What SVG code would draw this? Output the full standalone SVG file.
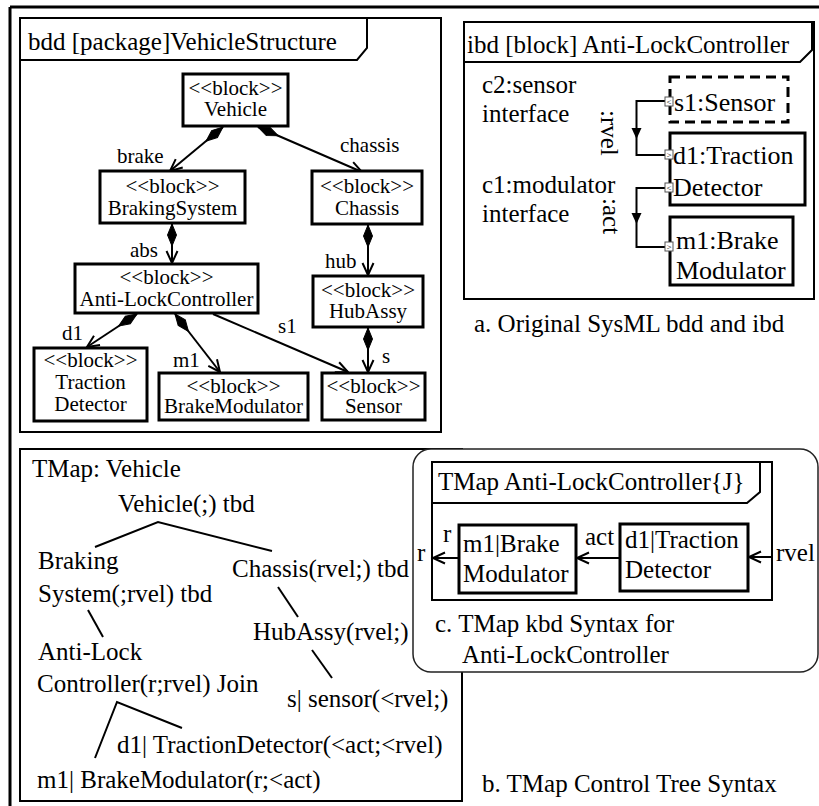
<svg xmlns="http://www.w3.org/2000/svg" width="819" height="806" viewBox="0 0 819 806" font-family="'Liberation Serif', 'Times New Roman', Times, serif">
  <style>
    .t25 { font-size: 25px; }
    .t21 { font-size: 21px; }
    .t26 { font-size: 26px; }
    .mid { text-anchor: middle; }
    .frame { fill: none; stroke: #000; stroke-width: 2; }
    .box { fill: #fff; stroke: #000; stroke-width: 3; }
    .dash { fill: #fff; stroke: #000; stroke-width: 3; stroke-dasharray: 10 6; }
    .line { fill: none; stroke: #000; stroke-width: 2; }
    .port { fill: #fff; stroke: #555; stroke-width: 1; }
    .portg { font-size: 9px; text-anchor: middle; }
  </style>
  <defs>
    <marker id="diamond" markerUnits="userSpaceOnUse" markerWidth="24" markerHeight="12" refX="0" refY="0" viewBox="0 -6 24 12" orient="auto" overflow="visible">
      <path d="M0,0 L11,-4.5 L22,0 L11,4.5 Z" fill="#000" stroke="#000" stroke-width="1"/>
    </marker>
    <marker id="open" markerUnits="userSpaceOnUse" markerWidth="16" markerHeight="14" refX="0" refY="0" viewBox="-14 -7 16 14" orient="auto" overflow="visible">
      <path d="M-12,-5.5 L0,0 L-12,5.5" fill="none" stroke="#000" stroke-width="2"/>
    </marker>
  </defs>

  <rect width="819" height="806" fill="#fff"/>

  <!-- outer frame (top and left edges) -->
  <line x1="10" y1="7" x2="819" y2="7" stroke="#000" stroke-width="3"/>
  <line x1="10" y1="7" x2="10" y2="806" stroke="#000" stroke-width="3"/>

  <!-- ===== bdd ===== -->
  <g id="bdd-frame">
    <rect x="20" y="18" width="421" height="414" class="frame"/>
    <path d="M20,60 H357 L367,48 V18" class="frame"/>
    <text x="28" y="50" class="t25">bdd [package]VehicleStructure</text>
  </g>

  <g id="bdd-connectors">
    <line x1="223" y1="127" x2="170" y2="171" class="line" marker-start="url(#diamond)" marker-end="url(#open)"/>
    <line x1="258" y1="127" x2="362" y2="172" class="line" marker-start="url(#diamond)" marker-end="url(#open)"/>
    <line x1="172" y1="224" x2="172" y2="263" class="line" marker-start="url(#diamond)" marker-end="url(#open)"/>
    <line x1="368" y1="225" x2="368" y2="275" class="line" marker-start="url(#diamond)" marker-end="url(#open)"/>
    <line x1="368" y1="328" x2="368" y2="372" class="line" marker-start="url(#diamond)" marker-end="url(#open)"/>
    <line x1="137" y1="314" x2="87" y2="347" class="line" marker-start="url(#diamond)" marker-end="url(#open)"/>
    <line x1="175" y1="314" x2="220" y2="372" class="line" marker-start="url(#diamond)" marker-end="url(#open)"/>
    <line x1="213" y1="314" x2="348" y2="372" class="line" marker-end="url(#open)"/>
    <text x="117" y="163" class="t21">brake</text>
    <text x="340" y="152" class="t21">chassis</text>
    <text x="130" y="257" class="t21">abs</text>
    <text x="325" y="268" class="t21">hub</text>
    <text x="62" y="340" class="t21">d1</text>
    <text x="173" y="367" class="t21">m1</text>
    <text x="278" y="333" class="t21">s1</text>
    <text x="382" y="363" class="t21">s</text>
  </g>

  <g id="Vehicle">
    <rect x="183" y="74" width="105" height="52" class="box"/>
    <text x="235.5" y="95" class="t21 mid">&lt;&lt;block&gt;&gt;</text>
    <text x="235.5" y="116" class="t21 mid">Vehicle</text>
  </g>
  <g id="BrakingSystem">
    <rect x="100" y="171" width="145" height="52" class="box"/>
    <text x="172.5" y="193" class="t21 mid">&lt;&lt;block&gt;&gt;</text>
    <text x="172.5" y="215" class="t21 mid">BrakingSystem</text>
  </g>
  <g id="Chassis">
    <rect x="312" y="171" width="110" height="53" class="box"/>
    <text x="367" y="193" class="t21 mid">&lt;&lt;block&gt;&gt;</text>
    <text x="367" y="215" class="t21 mid">Chassis</text>
  </g>
  <g id="AntiLockController">
    <rect x="75" y="264" width="183" height="49" class="box"/>
    <text x="166.5" y="284" class="t21 mid">&lt;&lt;block&gt;&gt;</text>
    <text x="166.5" y="306" class="t21 mid">Anti-LockController</text>
  </g>
  <g id="HubAssy">
    <rect x="313" y="276" width="110" height="51" class="box"/>
    <text x="368" y="297" class="t21 mid">&lt;&lt;block&gt;&gt;</text>
    <text x="368" y="318" class="t21 mid">HubAssy</text>
  </g>
  <g id="TractionDetector">
    <rect x="34" y="348" width="113" height="73" class="box"/>
    <text x="90.5" y="367" class="t21 mid">&lt;&lt;block&gt;&gt;</text>
    <text x="90.5" y="389" class="t21 mid">Traction</text>
    <text x="90.5" y="411" class="t21 mid">Detector</text>
  </g>
  <g id="BrakeModulator">
    <rect x="159" y="373" width="149" height="47" class="box"/>
    <text x="233.5" y="393" class="t21 mid">&lt;&lt;block&gt;&gt;</text>
    <text x="233.5" y="413" class="t21 mid">BrakeModulator</text>
  </g>
  <g id="Sensor">
    <rect x="322" y="373" width="103" height="47" class="box"/>
    <text x="373.5" y="393" class="t21 mid">&lt;&lt;block&gt;&gt;</text>
    <text x="373.5" y="413" class="t21 mid">Sensor</text>
  </g>

  <!-- ===== ibd ===== -->
  <g id="ibd-frame">
    <rect x="464" y="22" width="350" height="277" class="frame"/>
    <path d="M464,62 H800 L812,50 V22" class="frame"/>
    <text x="467" y="53" class="t25">ibd [block] Anti-LockController</text>
    <text x="482" y="93" class="t25">c2:sensor</text>
    <text x="482" y="122" class="t25">interface</text>
    <text x="482" y="193" class="t25">c1:modulator</text>
    <text x="482" y="222" class="t25">interface</text>
  </g>

  <g id="ibd-connectors">
    <path d="M665,101 H636.5 V155 H665" class="line"/>
    <polygon points="631.5,128 641.5,128 636.5,139" fill="#000"/>
    <path d="M665,188 H636.5 V247 H665" class="line"/>
    <polygon points="631.5,213 641.5,213 636.5,224" fill="#000"/>
    <text x="0" y="0" class="t25" transform="translate(601,110) rotate(90)">:rvel</text>
    <text x="0" y="0" class="t25" transform="translate(603,198) rotate(90)">:act</text>
  </g>

  <g id="s1-Sensor">
    <rect x="670" y="77" width="118" height="45" class="dash"/>
    <text x="674" y="111" class="t26">s1:Sensor</text>
    <rect x="665" y="97" width="8" height="9" class="port"/>
    <text x="669" y="105" class="portg">&lt;</text>
  </g>
  <g id="d1-TractionDetector">
    <rect x="670" y="133" width="135" height="72" class="box"/>
    <text x="673" y="164" class="t26">d1:Traction</text>
    <text x="673" y="196" class="t26">Detector</text>
    <rect x="665" y="150" width="8" height="9" class="port"/>
    <text x="669" y="158" class="portg">&gt;</text>
    <rect x="665" y="183" width="8" height="9" class="port"/>
    <text x="669" y="191" class="portg">&lt;</text>
  </g>
  <g id="m1-BrakeModulator">
    <rect x="670" y="217" width="123" height="68" class="box"/>
    <text x="676" y="249" class="t26">m1:Brake</text>
    <text x="676" y="279" class="t26">Modulator</text>
    <rect x="665" y="242" width="8" height="9" class="port"/>
    <text x="669" y="250" class="portg">&gt;</text>
  </g>

  <text x="474" y="332" class="t25">a. Original SysML bdd and ibd</text>

  <!-- ===== TMap control tree ===== -->
  <g id="tmap-frame">
    <rect x="20" y="449" width="442" height="352" class="frame"/>
    <text x="32" y="477" class="t25">TMap: Vehicle</text>
  </g>

  <g id="tree-links">
    <path d="M95,547 L158,522 L272,551" class="line"/>
    <line x1="88" y1="610" x2="103" y2="637" class="line"/>
    <line x1="278" y1="587" x2="298" y2="617" class="line"/>
    <line x1="312" y1="650" x2="332" y2="678" class="line"/>
    <path d="M95,758 L117,702 L182,728" class="line"/>
  </g>

  <g id="tree-Vehicle"><text x="118" y="512" class="t25">Vehicle(;) tbd</text></g>
  <g id="tree-BrakingSystem">
    <text x="38" y="569" class="t25">Braking</text>
    <text x="38" y="602" class="t25">System(;rvel) tbd</text>
  </g>
  <g id="tree-Chassis"><text x="232" y="577" class="t25">Chassis(rvel;) tbd</text></g>
  <g id="tree-AntiLock">
    <text x="38" y="660" class="t25">Anti-Lock</text>
    <text x="37" y="692" class="t25">Controller(r;rvel) Join</text>
  </g>
  <g id="tree-HubAssy"><text x="253" y="640" class="t25">HubAssy(rvel;)</text></g>
  <g id="tree-sensor"><text x="287" y="707" class="t25">s| sensor(&lt;rvel;)</text></g>
  <g id="tree-TractionDetector"><text x="117" y="753" class="t25">d1| TractionDetector(&lt;act;&lt;rvel)</text></g>
  <g id="tree-BrakeModulator"><text x="37" y="788" class="t25">m1| BrakeModulator(r;&lt;act)</text></g>

  <text x="482" y="792" class="t25">b. TMap Control Tree Syntax</text>

  <!-- ===== TMap kbd ===== -->
  <g id="kbd-panel">
    <rect x="413" y="449" width="405" height="223" rx="18" ry="18" fill="#fff" stroke="#222" stroke-width="1.5"/>
    <rect x="432" y="462" width="340" height="138" class="frame" stroke-width="2.5"/>
    <path d="M432,503 H747 L760,492 V462" class="frame" stroke-width="2.5"/>
    <text x="438" y="490" class="t25">TMap Anti-LockController{J}</text>
    <text x="417" y="561" class="t25">r</text>
    <text x="776" y="561" class="t25">rvel</text>
    <text x="435" y="632" class="t25">c. TMap kbd Syntax for</text>
    <text x="462" y="663" class="t25">Anti-LockController</text>
  </g>

  <g id="kbd-connectors">
    <line x1="459" y1="558" x2="433" y2="558" class="line" marker-end="url(#open)"/>
    <line x1="620" y1="558" x2="577" y2="558" class="line" marker-end="url(#open)"/>
    <line x1="772" y1="557" x2="749" y2="557" class="line" marker-end="url(#open)"/>
    <text x="443" y="542" class="t25">r</text>
    <text x="585" y="545" class="t25">act</text>
  </g>

  <g id="kbd-m1">
    <rect x="459" y="525" width="117" height="68" class="box"/>
    <text x="463" y="552" class="t25">m1|Brake</text>
    <text x="463" y="582" class="t25">Modulator</text>
  </g>
  <g id="kbd-d1">
    <rect x="620" y="524" width="128" height="67" class="box"/>
    <text x="625" y="548" class="t25">d1|Traction</text>
    <text x="625" y="578" class="t25">Detector</text>
  </g>
</svg>
